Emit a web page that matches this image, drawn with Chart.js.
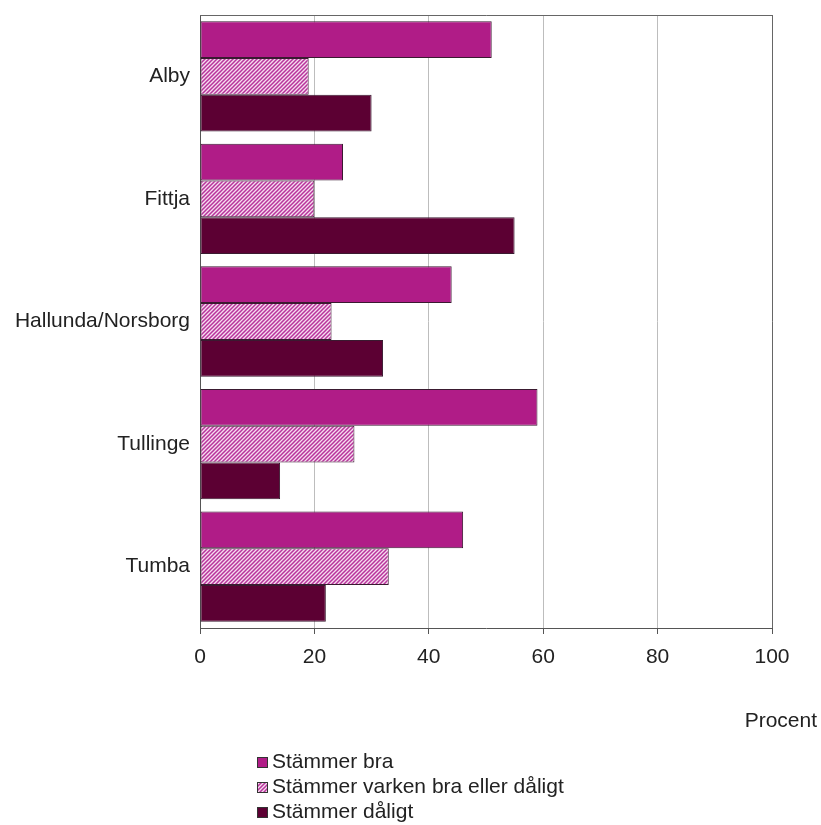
<!DOCTYPE html>
<html>
<head>
<meta charset="utf-8">
<script src="https://cdn.jsdelivr.net/npm/chart.js@4"></script>
<style>
  html, body { margin: 0; padding: 0; background: #ffffff; }
  #wrap { width: 821px; height: 825px; position: relative; }
</style>
</head>
<body>
<div id="wrap"><canvas id="c" width="821" height="825"></canvas></div>
<script>
const categories = ["Alby", "Fittja", "Hallunda/Norsborg", "Tullinge", "Tumba"];
const seriesNames = ["Stämmer bra", "Stämmer varken bra eller dåligt", "Stämmer dåligt"];
const stammerBra = [51, 25, 44, 59, 46];
const stammerVarken = [19, 20, 23, 27, 33];
const stammerDaligt = [30, 55, 32, 14, 22];
const xTicks = [0, 20, 40, 60, 80, 100];
const axisTitle = "Procent";

const FONT = "'Liberation Sans', Arial, sans-serif";
const FS = 21;
const TEXT = "#222222";

function makeHatch() {
  const s = 4;
  const c = document.createElement("canvas");
  c.width = s; c.height = s;
  const g = c.getContext("2d");
  g.fillStyle = "#f6dcef";
  g.fillRect(0, 0, s, s);
  g.strokeStyle = "#b8339c";
  g.lineWidth = 1.5;
  g.beginPath();
  g.moveTo(-1, s + 1); g.lineTo(s + 1, -1);
  g.moveTo(-1, 1); g.lineTo(1, -1);
  g.moveTo(s - 1, s + 1); g.lineTo(s + 1, s - 1);
  g.stroke();
  return c;
}
const hatchCanvas = makeHatch();
const ctx0 = document.getElementById("c").getContext("2d");
const hatch = ctx0.createPattern(hatchCanvas, "repeat");

const colors = ["#b01c87", hatch, "#5c0033"];

const extras = {
  id: "extras",
  afterDraw(chart) {
    const { ctx, chartArea } = chart;
    ctx.save();
    ctx.strokeStyle = "#666666";
    ctx.lineWidth = 1;
    ctx.beginPath();
    ctx.moveTo(chartArea.left, chartArea.top + 0.5);
    ctx.lineTo(chartArea.right + 0.5, chartArea.top + 0.5);
    ctx.moveTo(chartArea.right + 0.5, chartArea.top);
    ctx.lineTo(chartArea.right + 0.5, chartArea.bottom);
    ctx.stroke();
    ctx.font = FS + "px " + FONT;
    ctx.fillStyle = TEXT;
    ctx.textAlign = "right";
    ctx.textBaseline = "middle";
    ctx.fillText(axisTitle, 817, 721);
    const x0 = 257, ys = [762, 787, 812];
    ctx.textAlign = "left";
    chart.data.datasets.forEach((ds, i) => {
      const y = ys[i];
      ctx.fillStyle = ds.backgroundColor;
      ctx.fillRect(x0, y - 5, 11, 11);
      ctx.strokeStyle = "#333333";
      ctx.lineWidth = 1;
      ctx.strokeRect(x0 + 0.5, y - 5 + 0.5, 10, 10);
      ctx.fillStyle = TEXT;
      ctx.fillText(ds.label, x0 + 15, y);
    });
    ctx.restore();
  }
};

new Chart(document.getElementById("c"), {
  type: "bar",
  data: {
    labels: categories,
    datasets: [
      { label: seriesNames[0], data: stammerBra, backgroundColor: colors[0] },
      { label: seriesNames[1], data: stammerVarken, backgroundColor: colors[1] },
      { label: seriesNames[2], data: stammerDaligt, backgroundColor: colors[2] }
    ].map(d => Object.assign(d, { borderColor: "#3a1a30", borderWidth: 1, borderSkipped: false }))
  },
  options: {
    indexAxis: "y",
    responsive: false,
    animation: false,
    devicePixelRatio: 1,
    categoryPercentage: 0.9,
    barPercentage: 1.0,
    layout: { padding: { top: 15, right: 49, bottom: 157, left: 0 } },
    plugins: { legend: { display: false }, tooltip: { enabled: false } },
    scales: {
      x: {
        min: 0, max: 100,
        afterBuildTicks: (s) => { s.ticks = xTicks.map(v => ({ value: v })); },
        afterFit: (s) => { s.height = 40; s.paddingLeft = 0; s.paddingRight = 0; },
        grid: { color: "#bdbdbd", lineWidth: 1, tickColor: "#555555", tickLength: 6, drawTicks: true },
        border: { color: "#555555", width: 1 },
        ticks: { color: TEXT, font: { family: FONT, size: FS }, padding: 11, maxRotation: 0 }
      },
      y: {
        afterFit: (s) => { s.width = 200; s.paddingTop = 0; s.paddingBottom = 0; },
        grid: { display: false, drawTicks: false },
        border: { color: "#555555", width: 1 },
        ticks: { color: TEXT, font: { family: FONT, size: FS }, padding: 10 }
      }
    }
  },
  plugins: [extras]
});
</script>
</body>
</html>
